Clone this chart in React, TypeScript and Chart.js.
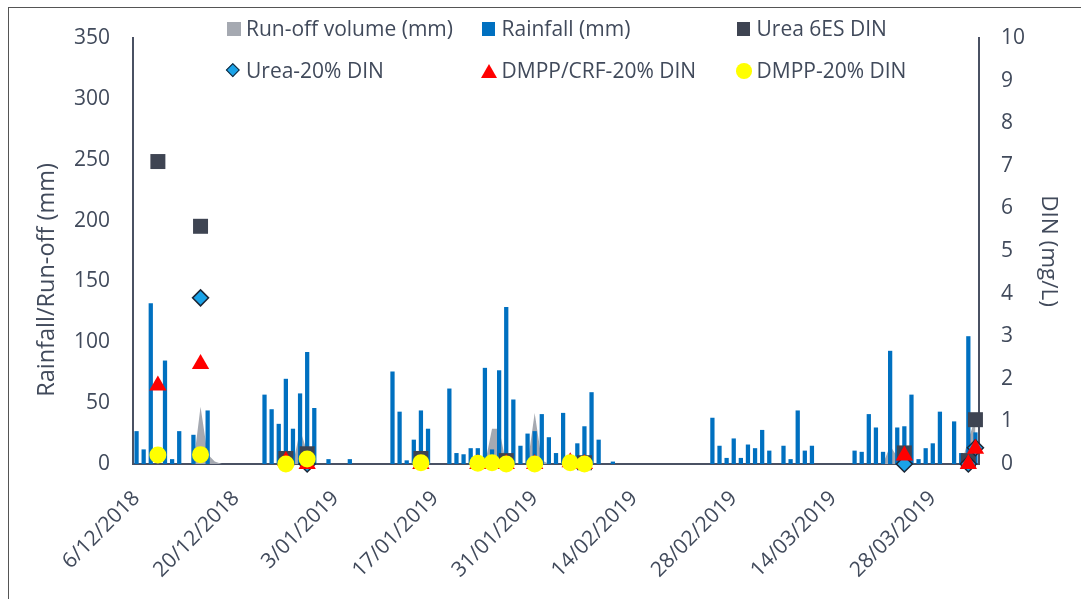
import React, { useEffect, useRef } from 'react';
import { Chart, registerables } from 'chart.js';

Chart.register(...registerables);

// ---------- categories (one per day, 6/12/2018 .. 3/04/2019) ----------
const START_Y = 2018;
const START_M = 11; // December (0-based)
const START_D = 6;
const NUM_DAYS = 119;
const TICK_EVERY = 14;
const categories: string[] = Array.from({ length: NUM_DAYS }, (_, i) => {
  const d = new Date(START_Y, START_M, START_D + i);
  return `${d.getDate()}/${String(d.getMonth() + 1).padStart(2, '0')}/${d.getFullYear()}`;
});

// ---------- Rainfall (mm): day index -> value ----------
const rainDays = [0, 1, 2, 4, 5, 6, 8, 10, 18, 19, 20, 21, 22, 23, 24, 25, 27, 30, 36, 37, 38, 39, 40, 41, 44, 45, 46, 47, 48, 49, 50, 51, 52, 53, 54, 55, 56, 57, 58, 59, 60, 62, 63, 64, 65, 67, 81, 82, 83, 84, 85, 86, 87, 88, 89, 91, 92, 93, 94, 95, 101, 102, 103, 104, 105, 106, 107, 108, 109, 110, 111, 112, 113, 115, 116, 117, 118];
const rainMm = [27, 12, 132, 85, 4, 27, 24, 44, 57, 45, 33, 70, 29, 58, 92, 46, 4, 4, 76, 43, 3, 20, 44, 29, 62, 9, 8, 13, 13, 79, 12, 77, 129, 53, 15, 25, 27, 41, 22, 9, 42, 17, 31, 59, 20, 2, 38, 15, 5, 21, 5, 16, 13, 28, 11, 15, 4, 44, 11, 15, 11, 10, 41, 30, 10, 93, 30, 31, 57, 4, 13, 17, 43, 35, 9, 105, 26];

// ---------- Run-off volume (mm): nonzero days ----------
const runoffDays = [9, 10, 11, 23, 24, 50, 51, 56, 57, 63, 106, 107, 117, 118];
const runoffMm = [47, 8, 2, 28, 10, 29, 29, 42, 3, 10, 15, 6, 20, 38];

// ---------- DIN (mg/L) ----------
const urea6esDays = [3, 9, 21, 24, 40, 52, 63, 108, 117, 118];
const urea6esDin = [7.1, 5.58, 0.13, 0.24, 0.13, 0.08, 0.03, 0.26, 0.08, 1.04];

const urea20Days = [9, 24, 108, 117, 118];
const urea20Din = [3.9, 0, 0, 0, 0.38];

const dmppCrfDays = [3, 9, 21, 24, 40, 48, 52, 56, 61, 63, 108, 117, 118];
const dmppCrfDin = [1.84, 2.35, 0.07, 0, 0, 0, 0, 0, 0.04, 0, 0.2, 0, 0.36];

const dmpp20Days = [3, 9, 21, 24, 40, 48, 50, 52, 56, 61, 63];
const dmpp20Din = [0.21, 0.22, 0, 0.12, 0.03, 0.02, 0.03, 0, 0, 0.03, 0];

const toSeries = (days: number[], vals: number[], fill: number | null) => {
  const arr: (number | null)[] = new Array(NUM_DAYS).fill(fill);
  days.forEach((d, i) => { arr[d] = vals[i]; });
  return arr;
};

const FONT = 'Open Sans';
const TEXT = '#414A5B';
const AXIS = '#4A5163';
const C_RUNOFF = '#A5A9B1';
const C_RAIN = '#0070C0';
const C_UREA6 = '#3E4452';
const C_UREA20 = '#1AA3E8';
const C_CRF = '#FF0000';
const C_DMPP = '#FFFF00';

export default function App() {
  const ref = useRef<HTMLCanvasElement>(null);

  useEffect(() => {
    const canvas = ref.current;
    if (!canvas) return;
    const tickFont = { family: FONT, size: 21 };
    const chart = new Chart(canvas, {
      type: 'bar',
      data: {
        labels: categories,
        datasets: [
          {
            type: 'line',
            label: 'Urea 6ES DIN',
            data: toSeries(urea6esDays, urea6esDin, null),
            showLine: false,
            pointStyle: 'rect',
            pointRadius: 10.6,
            pointBackgroundColor: C_UREA6,
            pointBorderWidth: 0,
            backgroundColor: C_UREA6,
            borderColor: C_UREA6,
            yAxisID: 'y1',
            clip: false,
            order: 4,
          } as any,
          {
            type: 'line',
            label: 'Urea-20% DIN',
            data: toSeries(urea20Days, urea20Din, null),
            showLine: false,
            pointStyle: 'rectRot',
            pointRadius: 8,
            pointBackgroundColor: C_UREA20,
            pointBorderColor: '#1B2535',
            pointBorderWidth: 1.5,
            backgroundColor: C_UREA20,
            borderColor: '#1B2535',
            yAxisID: 'y1',
            clip: false,
            order: 3,
          } as any,
          {
            type: 'line',
            label: 'DMPP/CRF-20% DIN',
            data: toSeries(dmppCrfDays, dmppCrfDin, null),
            showLine: false,
            pointStyle: 'triangle',
            pointRadius: 10,
            pointBackgroundColor: C_CRF,
            pointBorderWidth: 0,
            backgroundColor: C_CRF,
            borderColor: C_CRF,
            yAxisID: 'y1',
            clip: false,
            order: 2,
          } as any,
          {
            type: 'line',
            label: 'DMPP-20% DIN',
            data: toSeries(dmpp20Days, dmpp20Din, null),
            showLine: false,
            pointStyle: 'circle',
            pointRadius: 8.5,
            pointBackgroundColor: C_DMPP,
            pointBorderWidth: 0,
            backgroundColor: C_DMPP,
            borderColor: C_DMPP,
            yAxisID: 'y1',
            clip: false,
            order: 1,
          } as any,
          {
            type: 'bar',
            label: 'Rainfall (mm)',
            data: toSeries(rainDays, rainMm, null),
            backgroundColor: C_RAIN,
            barPercentage: 0.6,
            categoryPercentage: 1,
            yAxisID: 'y',
            order: 10,
          } as any,
          {
            type: 'line',
            label: 'Run-off volume (mm)',
            data: toSeries(runoffDays, runoffMm, 0),
            fill: 'origin',
            backgroundColor: C_RUNOFF,
            borderWidth: 0,
            pointRadius: 0,
            tension: 0,
            yAxisID: 'y',
            order: 20,
          } as any,
        ],
      },
      options: {
        responsive: false,
        animation: false,
        layout: { padding: { top: 30, left: 0, right: 0, bottom: 0 } },
        plugins: {
          legend: { display: false },
          tooltip: { enabled: false },
        },
        scales: {
          x: {
            type: 'category',
            offset: true,
            grid: { display: false, drawTicks: true, tickLength: 22 },
            border: { display: true, color: AXIS, width: 2 },
            ticks: {
              autoSkip: false,
              maxRotation: 45,
              minRotation: 45,
              padding: 0,
              color: TEXT,
              font: tickFont,
              callback: (_v: any, i: number) => (i % TICK_EVERY === 0 ? categories[i] : ''),
            },
            afterFit: (s: any) => { s.height = 134; },
          },
          y: {
            position: 'left',
            min: 0,
            max: 350,
            grid: { display: false, drawTicks: true, tickLength: 23 },
            border: { display: true, color: AXIS, width: 2 },
            ticks: { stepSize: 50, padding: 0, color: TEXT, font: tickFont },
            afterFit: (s: any) => { s.width = 124; },
          },
          y1: {
            position: 'right',
            min: 0,
            max: 10,
            grid: { display: false, drawTicks: true, tickLength: 22 },
            border: { display: true, color: AXIS, width: 2 },
            ticks: { stepSize: 1, padding: 0, color: TEXT, font: tickFont },
            title: {
              display: true,
              text: 'DIN (mg/L)',
              color: TEXT,
              font: { family: FONT, size: 22.5 },
              padding: { top: 19, bottom: 0 },
            },
            afterFit: (s: any) => { s.width = 102; },
          },
        },
      } as any,
    });
    return () => chart.destroy();
  }, []);

  const legendText: React.CSSProperties = {
    position: 'absolute',
    fontFamily: FONT,
    fontSize: 21,
    lineHeight: '24px',
    color: TEXT,
    whiteSpace: 'nowrap',
  };
  const sq = (x: number, y: number, c: string): React.CSSProperties => ({
    position: 'absolute', left: x, top: y, width: 13.5, height: 13.5, background: c,
  });

  return (
    <div
      style={{
        position: 'absolute',
        left: 8,
        top: 7,
        width: 1072,
        height: 591,
        borderTop: '1px solid #555',
        borderLeft: '1px solid #555',
        overflow: 'hidden',
        background: '#fff',
      }}
    >
      <canvas ref={ref} width={1072} height={590} style={{ display: 'block' }} />
      {/* left axis title */}
      <div
        style={{
          position: 'absolute',
          left: -114.5,
          top: 257,
          width: 300,
          height: 30,
          lineHeight: '30px',
          textAlign: 'center',
          fontFamily: FONT,
          fontSize: 23.5,
          color: TEXT,
          whiteSpace: 'nowrap',
          transform: 'rotate(-90deg)',
        }}
      >
        Rainfall/Run-off (mm)
      </div>
      {/* legend row 1 */}
      <div style={sq(218, 14, C_RUNOFF)} />
      <div style={{ ...legendText, left: 237, top: 8 }}>Run-off volume (mm)</div>
      <div style={sq(472.5, 14, C_RAIN)} />
      <div style={{ ...legendText, left: 492.5, top: 8 }}>Rainfall (mm)</div>
      <div style={sq(727.5, 14, C_UREA6)} />
      <div style={{ ...legendText, left: 747.5, top: 8 }}>Urea 6ES DIN</div>
      {/* legend row 2 */}
      <div
        style={{
          position: 'absolute', left: 218.7, top: 57.2, width: 7.6, height: 7.6,
          background: C_UREA20, border: '1.5px solid #1B2535', transform: 'rotate(45deg)',
        }}
      />
      <div style={{ ...legendText, left: 237, top: 50 }}>Urea-20% DIN</div>
      <svg style={{ position: 'absolute', left: 471.7, top: 56 }} width={16} height={14}>
        <polygon points="8,0 16,14 0,14" fill={C_CRF} />
      </svg>
      <div style={{ ...legendText, left: 492.5, top: 50 }}>DMPP/CRF-20% DIN</div>
      <div
        style={{
          position: 'absolute', left: 727, top: 55.3, width: 15.7, height: 15.7,
          borderRadius: '50%', background: C_DMPP,
        }}
      />
      <div style={{ ...legendText, left: 747.5, top: 50 }}>DMPP-20% DIN</div>
    </div>
  );
}
